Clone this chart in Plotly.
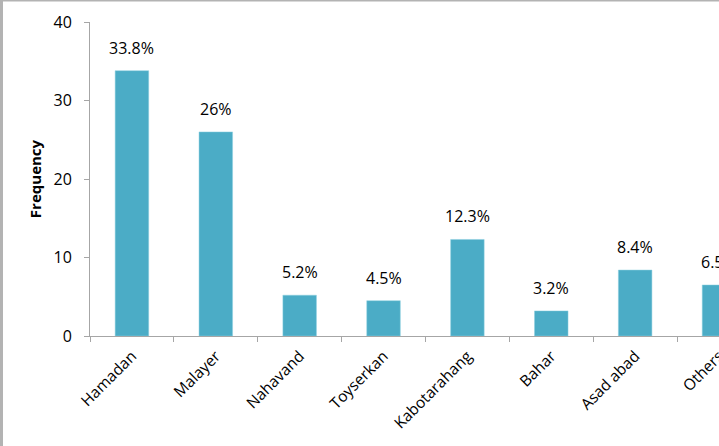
import plotly.graph_objects as go

categories = ["Hamadan", "Malayer", "Nahavand", "Toyserkan", "Kabotarahang", "Bahar", "Asad abad", "Others"]
frequency = [33.8, 26, 5.2, 4.5, 12.3, 3.2, 8.4, 6.5]
labels = ["33.8%", "26%", "5.2%", "4.5%", "12.3%", "3.2%", "8.4%", "6.5%"]
y_ticks = [0, 10, 20, 30, 40]

W, H = 719, 446
L, R, T, B = 90, 0, 22, 110
pw, ph = W - L - R, H - T - B
FONT = "Open Sans"

fig = go.Figure(go.Bar(
    x=categories, y=frequency,
    marker=dict(color="#4BACC6", line=dict(color="#8fd0e0", width=0.5)),
    width=0.4, cliponaxis=True,
))

for c, v, t in zip(categories, frequency, labels):
    fig.add_annotation(x=c, y=v, text=t, showarrow=False, yanchor="bottom",
                       yshift=10, font=dict(size=16, color="#000000", family=FONT))

fig.update_layout(
    width=W, height=H,
    margin=dict(l=L, r=R, t=T, b=B, pad=0, autoexpand=False),
    paper_bgcolor="white", plot_bgcolor="white",
    font=dict(family=FONT, color="#000000"),
    showlegend=False,
    xaxis=dict(
        type="category", range=[-0.5, 7.0], tickson="boundaries",
        ticks="outside", ticklen=5, tickcolor="#a6a6a6",
        showline=True, linecolor="#a6a6a6", linewidth=1,
        tickangle=-45, tickfont=dict(size=15.5), showgrid=False, automargin=False,
        ticklabelstandoff=4,
    ),
    yaxis=dict(
        range=[0, 40], tickvals=y_ticks, ticks="outside", ticklen=5,
        tickcolor="#a6a6a6", showline=True, linecolor="#a6a6a6", linewidth=1,
        tickfont=dict(size=16), showgrid=False, zeroline=False, automargin=False,
        ticklabelstandoff=9,
        title=dict(text="<b>Frequency</b>", font=dict(size=15), standoff=8),
    ),
)

# outer chart frame (left and top edges)
x_left = (1.5 - L) / pw
y_top = (T + ph - 0.5) / ph
fig.add_shape(type="line", xref="paper", yref="paper", x0=x_left, x1=x_left, y0=-2, y1=y_top + 0.01,
              line=dict(color="#b3b3b3", width=3), layer="above")
fig.add_shape(type="line", xref="paper", yref="paper", x0=x_left, x1=1.5, y0=y_top, y1=y_top,
              line=dict(color="#b3b3b3", width=2), layer="above")

fig.write_html("out.html", config={"displayModeBar": False},
               post_script="document.body.style.margin='0';")
